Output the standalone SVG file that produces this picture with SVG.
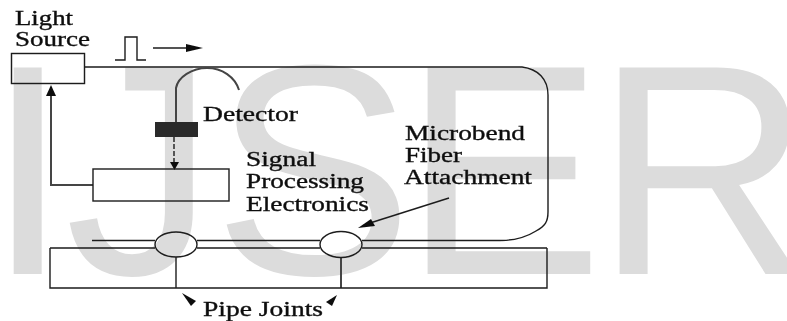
<svg xmlns="http://www.w3.org/2000/svg" width="787" height="321" viewBox="0 0 787 321">
<defs><filter id="soft" x="-2%" y="-2%" width="104%" height="104%"><feGaussianBlur stdDeviation="0.45"/></filter></defs>
<style>
.l{fill:none;stroke:#1c1c1c;stroke-width:1.4}
.g{fill:none;stroke:#444;stroke-width:2}
.t{font-family:"Liberation Serif",serif;font-size:20px;fill:#111;stroke:#111;stroke-width:.35}
.a{fill:#111;stroke:none}
</style>
<rect width="787" height="321" fill="#fff"/>
<text id="watermark" x="-14 65 213 403 595" y="274" font-family="Liberation Sans, sans-serif" font-size="300" fill="#dcdcdc">IJSER</text>
<g filter="url(#soft)">
<g id="connectors">
<path class="l" d="M84 67H522C538 69 548 79 548 95V212C548 222 545 226 536 231C525 238 515 240.500 500 240.500H362"/>
<path class="l" d="M92 240.500H155M197 240.500H320"/>
<path class="l" d="M50 248H155M197 248H320M362 248H547"/>
<path class="g" d="M176 122V88C178 77 192 68 207 68C222 68 235 77 239 90"/>
<path class="l" stroke-dasharray="5 2" d="M174 137V163"/>
<path class="a" d="M170 162H179L174.500 170Z"/>
<path class="g" d="M93 185H51V94"/>
<path class="a" d="M51 85L56 96H46Z"/>
<path class="l" d="M115 60H125V37H137V60H146"/>
<path class="l" d="M153 48H188"/>
<path class="a" d="M203 48L186 44V52Z"/>
<path class="l" d="M449 198L370 223"/>
<path class="a" d="M358 228L371 219L375 226Z"/>
<path class="l" d="M176 257V288"/>
<path class="g" d="M341 258V288"/>
<path class="a" d="M182 293L196 301L191 306Z"/>
<path class="a" d="M337 295L332 306L326 302Z"/>
</g>
<g id="light-source"><rect class="l" x="11.500" y="53.500" width="73" height="30"/>
<text class="t" x="15" y="25" textLength="58" lengthAdjust="spacingAndGlyphs">Light</text><text class="t" x="15" y="46" textLength="75" lengthAdjust="spacingAndGlyphs">Source</text></g>
<g id="detector"><rect x="155" y="122" width="43" height="15" fill="#2a2a2a"/>
<text class="t" x="203" y="121" textLength="95" lengthAdjust="spacingAndGlyphs">Detector</text></g>
<g id="signal-processing"><rect class="l" x="93" y="169" width="136" height="32"/>
<text class="t" x="246" y="166" textLength="70" lengthAdjust="spacingAndGlyphs">Signal</text><text class="t" x="246" y="188" textLength="118" lengthAdjust="spacingAndGlyphs">Processing</text><text class="t" x="246" y="211" textLength="123" lengthAdjust="spacingAndGlyphs">Electronics</text></g>
<g id="microbend"><text class="t" x="405" y="140" textLength="120" lengthAdjust="spacingAndGlyphs">Microbend</text><text class="t" x="405" y="162" textLength="57" lengthAdjust="spacingAndGlyphs">Fiber</text><text class="t" x="404" y="184" textLength="128" lengthAdjust="spacingAndGlyphs">Attachment</text></g>
<g id="pipe"><path class="l" d="M50 248V288H547V248"/></g>
<g id="joint-1"><ellipse class="l" cx="176" cy="244.500" rx="21" ry="12.500"/></g>
<g id="joint-2"><ellipse class="l" cx="341" cy="244.500" rx="21" ry="13"/></g>
<g id="pipe-joints"><text class="t" x="203" y="316" textLength="120" lengthAdjust="spacingAndGlyphs">Pipe Joints</text></g>
</g>
</svg>
